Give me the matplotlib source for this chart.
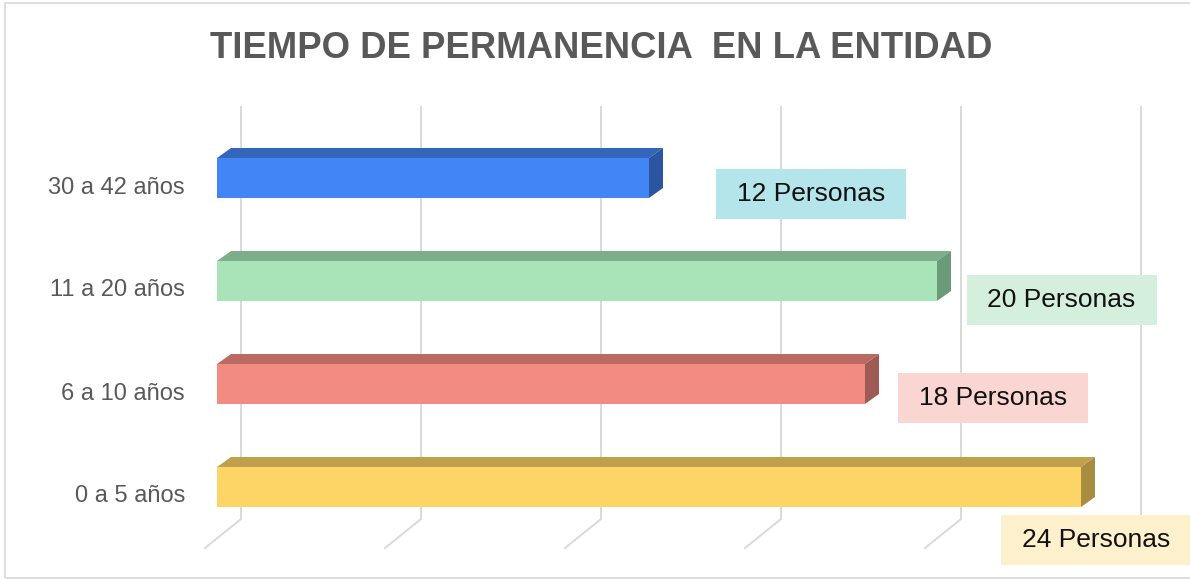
import numpy as np
import matplotlib
matplotlib.use("Agg")
from matplotlib import pyplot as plt
from matplotlib.patches import Polygon, Rectangle
from matplotlib.transforms import ScaledTranslation

# data, bottom to top
categorias = ["0 a 5 años", "6 a 10 años", "11 a 20 años", "30 a 42 años"]
personas = [24, 18, 20, 12]
etiquetas = ["24 Personas", "18 Personas", "20 Personas", "12 Personas"]

colores_frente = ["#fdd466", "#f28b82", "#a8e4b8", "#4285f4"]
colores_techo = ["#c0a04a", "#b96a63", "#7cae8a", "#3366bb"]
colores_lado = ["#a88d40", "#a05a55", "#6b9a78", "#2c55a0"]
colores_caja = ["#fdf0cc", "#fad6d3", "#d4f0dc", "#b4e5ea"]
# label box centre, offset from bar end (value units, category units)
pos_etiquetas = [(0.43, -0.515), (3.56, -0.136), (3.46, -0.18), (4.49, -0.155)]

plt.rcParams['font.family'] = ['Liberation Sans', 'DejaVu Sans']

W, H = 1190, 580
PX_X = 36.0    # pixels per person
PX_Y = 103.0   # pixels per category step

fig = plt.figure(figsize=(W / 100, H / 100), dpi=100)
ax = fig.add_axes((217 / W, (H - 538.5) / H, 900 / W, 412 / H))
ax.set_xlim(0, 25)
ax.set_ylim(-0.5, 3.5)
for s in ax.spines.values():
    s.set_visible(False)
ax.set_xticks(np.arange(0, 26, 5))
ax.tick_params(axis='x', length=0, labelbottom=False)

# 3d gridlines: back wall vertical + floor diagonal
gx_back, gx_front = 24 / PX_X, -12 / PX_X
gy_top, gy_back, gy_front = 380 / PX_Y, -32 / PX_Y, -61 / PX_Y
for v in ax.get_xticks():
    ax.plot([v + gx_back, v + gx_back, v + gx_front], [gy_top, gy_back, gy_front],
            color='#d9d9d9', lw=1.4, clip_on=False, zorder=1)

# bars
alto = 40 / PX_Y
dx, dy = 14 / PX_X, 10 / PX_Y
ypos = np.arange(len(categorias))
ax.barh(ypos, personas, height=alto, color=colores_frente, zorder=3)
for i, v in enumerate(personas):
    top, bot = i + alto / 2, i - alto / 2
    ax.add_patch(Polygon([(0, top), (v, top), (v + dx, top + dy), (dx, top + dy)],
                         closed=True, facecolor=colores_techo[i], lw=0, zorder=3))
    ax.add_patch(Polygon([(v, bot), (v, top), (v + dx, top + dy), (v + dx, bot + dy)],
                         closed=True, facecolor=colores_lado[i], lw=0, zorder=3))

# data labels in boxes
bw, bh = 190 / PX_X, 50 / PX_Y
for i, v in enumerate(personas):
    cx, cy = v + pos_etiquetas[i][0], i + pos_etiquetas[i][1]
    ax.add_patch(Rectangle((cx - bw / 2, cy - bh / 2), bw, bh, facecolor=colores_caja[i],
                           lw=0, clip_on=False, zorder=4))
    ax.text(cx, cy, etiquetas[i], ha='center', va='center', fontsize=19,
            color='#111111', zorder=5)

ax.set_yticks(ypos, categorias)
ax.tick_params(axis='y', length=0, pad=23, labelsize=17, labelcolor='#595959')
# category labels sit a bit below the bar front centre
shift = ScaledTranslation(0, -7 / 100, fig.dpi_scale_trans)
for lbl in ax.get_yticklabels():
    lbl.set_transform(lbl.get_transform() + shift)

fig.text(601 / W, 1 - 58 / H, 'TIEMPO DE PERMANENCIA  EN LA ENTIDAD', ha='center',
         va='baseline', fontsize=26.3, fontweight='bold', color='#595959')

fig.add_artist(Rectangle((5 / W, 2 / H), 1.0, 1 - 5 / H, transform=fig.transFigure,
                         fill=False, edgecolor='#d9d9d9', lw=1.2))

fig.savefig('out.png', dpi=100)
